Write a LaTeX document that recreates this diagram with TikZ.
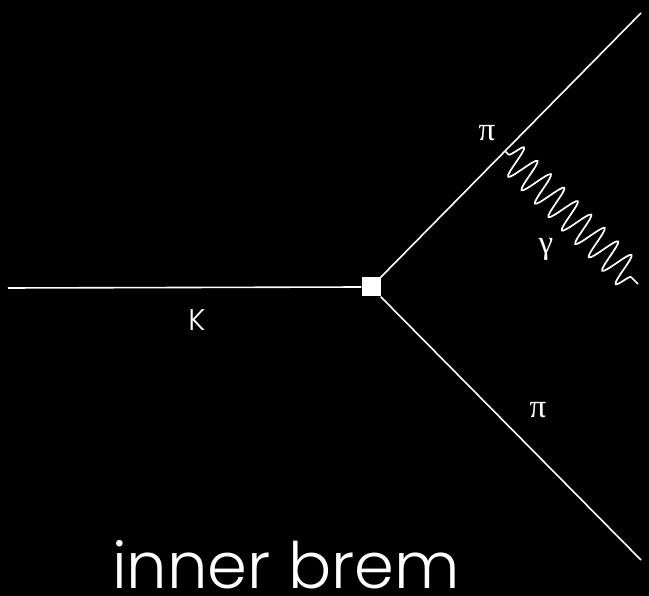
\documentclass[tikz,border=0pt]{standalone}
\usepackage{fontspec}
\setmainfont{Poppins}[UprightFont=* Light]
\newfontfamily\greekfont{Liberation Serif}
\usepackage{tikz}
\usetikzlibrary{decorations.pathmorphing, positioning}
\tikzset{
    particle/.style={draw=white, line width=1.6pt},
    photon/.style={draw=white, line width=1.7pt, decorate, decoration={snake, amplitude=16pt, segment length=19pt, pre length=5pt, post length=3pt}},
    lbl/.style={text=white, font=\fontsize{30}{32}\selectfont},
    grk/.style={text=white, font=\greekfont\fontsize{33}{35}\selectfont}
}

\begin{document}
\begin{tikzpicture}[
    x=1pt, y=-1pt,
    vertex/.style={rectangle, fill=white, draw=none, minimum size=19pt, inner sep=0pt},
    title/.style={text=white, inner sep=0pt, font=\fontsize{64}{66}\selectfont}
]
    \fill[black] (0,0) rectangle (649,596);
    \useasboundingbox (0,0) rectangle (649,596);

    \coordinate (kin) at (8,288);
    \node[vertex] (v) at (371,287) {};
    \coordinate (piup) at (641,13);
    \coordinate (pidown) at (641,560);
    \coordinate (emit) at (505,151);
    \coordinate (gend) at (638,284);

    \draw[particle] (kin) -- (v.west);
    \draw[particle] (v.north east) -- (piup);
    \draw[particle] (v.south east) -- (pidown);
    \draw[photon] (emit) -- (gend);

    \node[grk] (lpiup) at (487,133) {π};
    \node[grk] (lgamma) at (546,249) {γ};
    \node[lbl] (lk) at (197,320) {K};
    \node[grk] (lpidown) at (538,410) {π};

    \node[title, anchor=base] (name) at (286,588) {inner brem};
\end{tikzpicture}
\end{document}
